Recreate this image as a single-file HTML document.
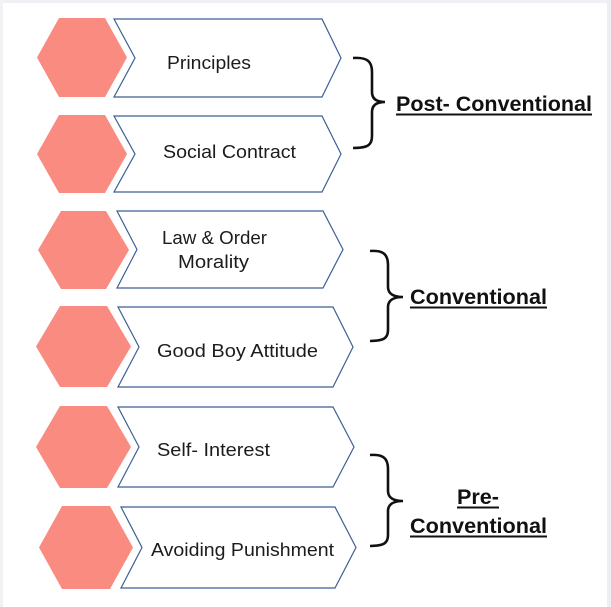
<!DOCTYPE html>
<html>
<head>
<meta charset="utf-8">
<style>
html,body{margin:0;padding:0;background:#fff;}
body{width:611px;height:607px;overflow:hidden;}
svg{display:block;}
text{font-family:"Liberation Sans",sans-serif;}
</style>
</head>
<body>
<svg width="611" height="607" viewBox="0 0 611 607" xmlns="http://www.w3.org/2000/svg">
  <rect x="0" y="0" width="611" height="607" fill="#ffffff"/>
  <!-- subtle frame -->
  <rect x="0" y="0" width="611" height="3" fill="#eef0f3"/>
  <rect x="0" y="0" width="3" height="607" fill="#f1f2f4"/>
  <rect x="607" y="0" width="4" height="607" fill="#eceef1"/>

  <g fill="#fa8b80">
    <polygon points="37,57.5 59,18 105,18 127,57.5 105,97 59,97"/>
    <polygon points="37,154 59,115 105,115 127,154 105,193 59,193"/>
    <polygon points="38,250 61,211 106,211 129,250 106,289 61,289"/>
    <polygon points="36,346.5 60,306 107,306 131,346.5 107,387 60,387"/>
    <polygon points="36,447 60,406 107,406 131,447 107,488 60,488"/>
    <polygon points="39,547.5 62,506 110,506 133,547.5 110,589 62,589"/>
  </g>

  <g fill="#ffffff" stroke="#3d5f94" stroke-width="1.2" stroke-linejoin="miter">
    <polygon points="114,19 322,19 341,58 322,97 114,97 135,58"/>
    <polygon points="114,116 322,116 341,154 322,192 114,192 135,154"/>
    <polygon points="117,211 323,211 343,249.5 323,288 117,288 137,249.5"/>
    <polygon points="118,307 333,307 353,347 333,387 118,387 139,347"/>
    <polygon points="118,407 333,407 354,447 333,487 118,487 139,447"/>
    <polygon points="121,507 335,507 356,547.5 335,588 121,588 142,547.5"/>
  </g>

  <g fill="#1c1c1c" font-size="18">
    <text x="167" y="69" textLength="84" lengthAdjust="spacingAndGlyphs">Principles</text>
    <text x="163" y="158" textLength="133" lengthAdjust="spacingAndGlyphs">Social Contract</text>
    <text x="162" y="244" textLength="105" lengthAdjust="spacingAndGlyphs">Law &amp; Order</text>
    <text x="178" y="268" textLength="71" lengthAdjust="spacingAndGlyphs">Morality</text>
    <text x="157" y="357" textLength="161" lengthAdjust="spacingAndGlyphs">Good Boy Attitude</text>
    <text x="157" y="456" textLength="113" lengthAdjust="spacingAndGlyphs">Self- Interest</text>
    <text x="151" y="556" textLength="183" lengthAdjust="spacingAndGlyphs">Avoiding Punishment</text>
  </g>

  <g fill="none" stroke="#111" stroke-width="2.6" stroke-linecap="butt">
    <path d="M353,58 C368,57 372,62 372,72 L372,92 C372,99 377,102 385,102 C377,102 372,105 372,112 L372,136 C372,145 368,148 353,148"/>
    <path d="M370,251 C384,250 388,255 388,265 L388,287 C388,294 394,297 403,297 C394,297 388,300 388,307 L388,330 C388,338 384,341 370,341"/>
    <path d="M370,455 C384,454 388,459 388,469 L388,491 C388,498 394,501 403,501 C394,501 388,504 388,511 L388,535 C388,543 384,546 370,546"/>
  </g>

  <g fill="#111" font-size="21.5" font-weight="bold">
    <text x="396" y="111" textLength="196" lengthAdjust="spacingAndGlyphs">Post- Conventional</text>
    <text x="410" y="304" textLength="137" lengthAdjust="spacingAndGlyphs">Conventional</text>
    <text x="457" y="504" textLength="42" lengthAdjust="spacingAndGlyphs">Pre-</text>
    <text x="410" y="533" textLength="137" lengthAdjust="spacingAndGlyphs">Conventional</text>
  </g>
  <g fill="#111">
    <rect x="396" y="113.5" width="196" height="2"/>
    <rect x="410" y="306.5" width="137" height="2"/>
    <rect x="457" y="506.5" width="42" height="2"/>
    <rect x="410" y="535.5" width="137" height="2"/>
  </g>
</svg>
</body>
</html>
